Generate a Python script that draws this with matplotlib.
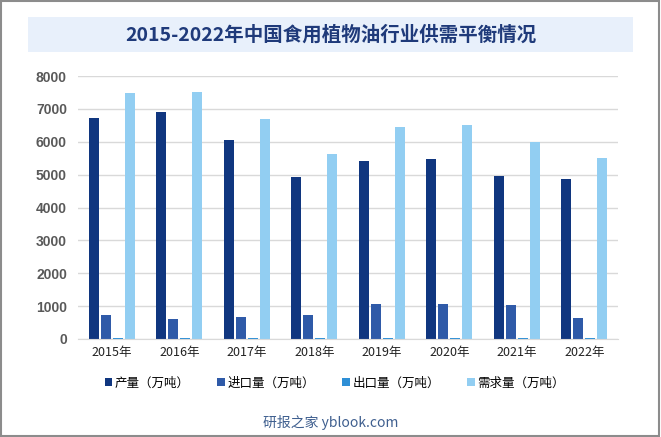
import numpy as np
import matplotlib.pyplot as plt
from matplotlib.patches import Rectangle

plt.rcParams['font.family'] = ['Noto Sans CJK SC', 'DejaVu Sans']
plt.rcParams['axes.unicode_minus'] = False

years = ['2015年', '2016年', '2017年', '2018年', '2019年', '2020年', '2021年', '2022年']
production = [6730, 6910, 6060, 4940, 5420, 5480, 4960, 4870]
imports = [740, 620, 660, 720, 1070, 1070, 1040, 650]
exports = [40, 40, 40, 40, 40, 40, 40, 40]
demand = [7470, 7500, 6700, 5630, 6450, 6510, 6000, 5510]

series = [production, imports, exports, demand]
names = ['产量（万吨）', '进口量（万吨）', '出口量（万吨）', '需求量（万吨）']
colors = ['#10367F', '#2F5AA8', '#2E8FD6', '#92CEF2']

fig = plt.figure(figsize=(6.61, 4.37), dpi=100)
ax = fig.add_axes([78 / 661, 1 - 339 / 437, 540 / 661, 263 / 437])

# 标题底框
fig.patches.append(Rectangle((28 / 661, 1 - 52 / 437), 605 / 661, 35 / 437,
                             transform=fig.transFigure, facecolor='#E8F0FB',
                             edgecolor='none', zorder=0))
fig.text(331 / 661, 1 - 35 / 437, '2015-2022年中国食用植物油行业供需平衡情况',
         ha='center', va='center', fontsize=14, fontweight='bold', color='#1F3A7A')

# 外框
fig.patches.append(Rectangle((0.002, 0.003), 0.995, 0.994, transform=fig.transFigure,
                             fill=False, edgecolor='#8C8C8C', lw=1.5))

x = np.arange(len(years))
w = 0.148
step = 0.178
for i, (vals, name, c) in enumerate(zip(series, names, colors)):
    ax.bar(x + (i - 1.5) * step, vals, width=w, color=c, label=name, zorder=3)

ax.set_xlim(-0.5, len(years) - 0.5)
ax.set_ylim(0, 8000)
ax.set_yticks(range(0, 8001, 1000))
ax.set_xticks(x)
ax.set_xticklabels(years, fontsize=9, color='#222222')
ax.tick_params(axis='y', labelsize=10, labelcolor='#595959', length=0, pad=8)
ax.tick_params(axis='x', length=0, pad=5)
for lab in ax.get_yticklabels():
    lab.set_fontfamily(['Liberation Sans', 'DejaVu Sans'])
    lab.set_fontweight('bold')
ax.grid(axis='y', color='#D9D9D9', lw=1, zorder=0)
for s in ['top', 'right', 'left']:
    ax.spines[s].set_visible(False)
ax.spines['bottom'].set_color('#D9D9D9')
ax.spines['bottom'].set_zorder(4)

fig.legend(loc='center', bbox_to_anchor=(335 / 661, 1 - 383 / 437), ncol=4,
           frameon=False, fontsize=9, handlelength=0.6, handleheight=0.6,
           handletextpad=0.2, columnspacing=2.2)

fig.text(331 / 661, 1 - 422 / 437, '研报之家 yblook.com', ha='center', va='center',
         fontsize=10, color='#3F5F8F')

fig.savefig('out.png', dpi=100)
